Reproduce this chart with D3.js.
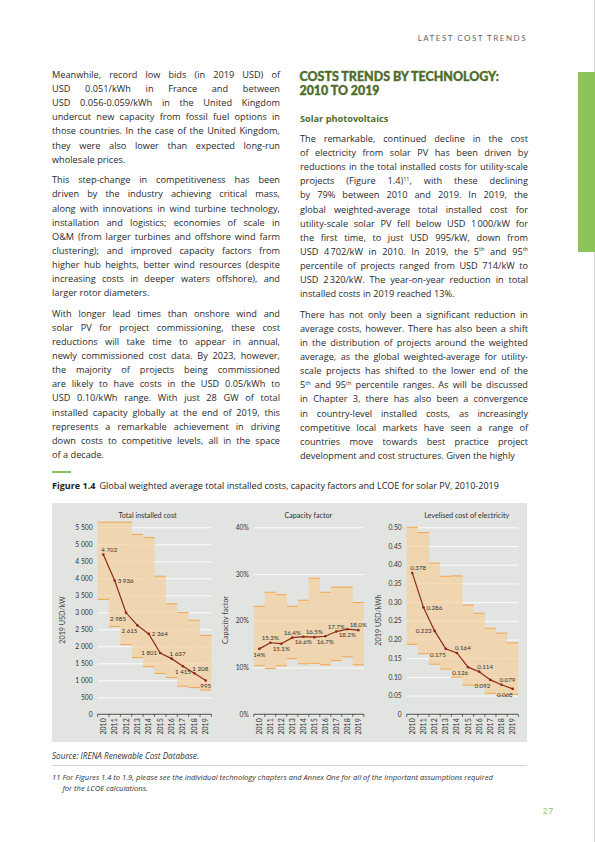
<!DOCTYPE html>
<html>
<head>
<meta charset="utf-8">
<script src="https://cdn.jsdelivr.net/npm/d3@7"></script>
<style>
  body { margin: 0; background: #fff; }
  svg text { font-family: Lato, "Open Sans", sans-serif; }
  svg .body text, svg text.os { font-family: "Open Sans", Lato, sans-serif; }
</style>
</head>
<body>
<svg id="page" width="595" height="842"></svg>
<script>
// ---- chart data ----
const years = [2010, 2011, 2012, 2013, 2014, 2015, 2016, 2017, 2018, 2019];

const costAvg = [4702, 3936, 2985, 2615, 2364, 1801, 1637, 1415, 1208, 995];
const costP95 = [5650, 5650, 5650, 5290, 5200, 4060, 3250, 2990, 2765, 2320];
const costP5  = [3380, 2580, 2050, 1670, 1400, 1200, 1080, 825, 785, 714];
const costTicks = [0, 500, 1000, 1500, 2000, 2500, 3000, 3500, 4000, 4500, 5000, 5500];

const cfAvg = [14, 15.3, 15.1, 16.4, 16.6, 16.5, 16.7, 17.7, 18.2, 18.0];
const cfP95 = [23.1, 26.1, 25.6, 23.1, 24.4, 29.1, 26.1, 27.2, 27.2, 23.9];
const cfP5  = [10.4, 9.8, 10.4, 11.9, 10.8, 10.9, 10.6, 11.5, 12.3, 10.6];
const cfLabels = ['14%', '15.3%', '15.1%', '16.4%', '16.6%', '16.5%', '16.7%', '17.7%', '18.2%', '18.0%'];
const cfTicks = [0, 10, 20, 30, 40];

const lcoeAvg = [0.378, 0.286, 0.223, 0.175, 0.164, 0.126, 0.114, 0.092, 0.079, 0.068];
const lcoeP95 = [0.500, 0.486, 0.404, 0.369, 0.370, 0.292, 0.270, 0.230, 0.217, 0.191];
const lcoeP5  = [0.187, 0.162, 0.134, 0.121, 0.099, 0.078, 0.078, 0.056, 0.050, 0.053];
const lcoeTicks = [0, 0.05, 0.10, 0.15, 0.20, 0.25, 0.30, 0.35, 0.40, 0.45, 0.50];

// where each value label sits relative to its point
const costLabelPos = ['ar', 'r', 'bl', 'bl', 'r', 'l', 'ar', 'b', 'ar', 'b'];
const cfLabelPos   = ['b', 'a', 'b', 'a', 'b', 'a', 'b', 'a', 'b', 'a'];
const lcoeLabelPos = ['ar', 'r', 'l', 'bl', 'ar', 'bl', 'ar', 'bl', 'ar', 'bl'];

// ---- page text ----
const leftParas = [
  ["Meanwhile, record low bids (in 2019 USD) of",
   "USD 0.051/kWh in France and between",
   "USD 0.056-0.059/kWh in the United Kingdom",
   "undercut new capacity from fossil fuel options in",
   "those countries. In the case of the United Kingdom,",
   "they were also lower than expected long-run",
   "wholesale prices."],
  ["This step-change in competitiveness has been",
   "driven by the industry achieving critical mass,",
   "along with innovations in wind turbine technology,",
   "installation and logistics; economies of scale in",
   "O&M (from larger turbines and offshore wind farm",
   "clustering); and improved capacity factors from",
   "higher hub heights, better wind resources (despite",
   "increasing costs in deeper waters offshore), and",
   "larger rotor diameters."],
  ["With longer lead times than onshore wind and",
   "solar PV for project commissioning, these cost",
   "reductions will take time to appear in annual,",
   "newly commissioned cost data. By 2023, however,",
   "the majority of projects being commissioned",
   "are likely to have costs in the USD 0.05/kWh to",
   "USD 0.10/kWh range. With just 28 GW of total",
   "installed capacity globally at the end of 2019, this",
   "represents a remarkable achievement in driving",
   "down costs to competitive levels, all in the space",
   "of a decade."]
];

const rightParas = [
  ["The remarkable, continued decline in the cost",
   "of electricity from solar PV has been driven by",
   "reductions in the total installed costs for utility-scale",
   "projects (Figure 1.4)^11, with these declining",
   "by 79% between 2010 and 2019. In 2019, the",
   "global weighted-average total installed cost for",
   "utility-scale solar PV fell below USD 1\u202F000/kW for",
   "the first time, to just USD 995/kW, down from",
   "USD 4\u202F702/kW in 2010. In 2019, the 5^th and 95^th",
   "percentile of projects ranged from USD 714/kW to",
   "USD 2\u202F320/kW. The year-on-year reduction in total",
   "installed costs in 2019 reached 13%."],
  ["There has not only been a significant reduction in",
   "average costs, however. There has also been a shift",
   "in the distribution of projects around the weighted",
   "average, as the global weighted-average for utility-",
   "scale projects has shifted to the lower end of the",
   "5^th and 95^th percentile ranges. As will be discussed",
   "in Chapter 3, there has also been a convergence",
   "in country-level installed costs, as increasingly",
   "competitive local markets have seen a range of",
   "countries move towards best practice project",
   "development and cost structures. Given the highly"]
];

const svg = d3.select('#page');
const green = '#8dc45a';
const darkGreen = '#4f6d2b';
const bodySize = 9.2;
const lineH = 14.1;
const paraGap = 6.6;

// ---- header, tab, page edge ----
svg.append('line').attr('x1', 594.5).attr('x2', 594.5).attr('y1', 0).attr('y2', 842)
  .attr('stroke', '#d0d0d0').attr('stroke-width', 1);
svg.append('rect').attr('x', 578).attr('y', 72).attr('width', 17).attr('height', 180).attr('fill', green);
svg.append('text').attr('x', 527).attr('y', 41).attr('text-anchor', 'end')
  .attr('font-size', 8).attr('letter-spacing', 1.5).attr('fill', '#666')
  .text('LATEST COST TRENDS');

// ---- justified body text ----
function addWord(t, wd, x, y, size) {
  wd.split(/(\^[0-9a-z]+)/).filter(s => s).forEach((seg, j) => {
    const ts = t.append('tspan');
    if (j === 0) ts.attr('x', x);
    if (seg[0] === '^') {
      ts.attr('y', y - size * 0.38).attr('font-size', size * 0.6).text(seg.slice(1));
    } else {
      ts.attr('y', y).text(seg);
    }
  });
}

function measure(g, wd, size) {
  const tmp = g.append('text');
  addWord(tmp, wd, 0, 0, size);
  const l = tmp.node().getComputedTextLength();
  tmp.remove();
  return l;
}

function textLine(g, str, x, y, w, justify, size) {
  const words = str.split(' ');
  const widths = words.map(wd => measure(g, wd, size));
  const sp = measure(g, 'a\u00a0a', size) - measure(g, 'aa', size);
  const total = d3.sum(widths);
  const n = words.length;
  const natural = total + sp * (n - 1);
  let gap = sp, s = 1;
  if (natural > w) s = w / natural;
  else if (justify && n > 1) gap = (w - total) / (n - 1);
  const t = g.append('text');
  if (s !== 1) t.attr('transform', `translate(${x},0) scale(${s},1) translate(${-x},0)`);
  let cx = x;
  words.forEach((wd, i) => {
    addWord(t, wd, cx, y, size);
    cx += widths[i] + gap;
  });
}

function column(paras, x, y0, w) {
  const g = svg.append('g').attr('class', 'body').attr('font-size', bodySize).attr('fill', '#2a2a2a');
  let y = y0;
  paras.forEach(lines => {
    lines.forEach((ln, i) => {
      textLine(g, ln, x, y, w, i < lines.length - 1, bodySize);
      y += lineH;
    });
    y += paraGap;
  });
}

// size a text element (and its companions) so the first spans a target width
function fitSize(sel, base, target, others) {
  sel.attr('font-size', base);
  const s = base * target / sel.node().getComputedTextLength();
  sel.attr('font-size', s);
  (others || []).forEach(o => o.attr('font-size', s));
}

column(leftParas, 52, 78, 228);

svg.append('text').attr('x', 299.5).attr('y', 80.5).attr('font-size', 12.5).attr('font-weight', 900)
  .attr('fill', darkGreen).attr('stroke', darkGreen).attr('stroke-width', 0.35)
  .attr('textLength', 199.5).attr('lengthAdjust', 'spacingAndGlyphs')
  .text('COSTS TRENDS BY TECHNOLOGY:');
svg.append('text').attr('x', 299.5).attr('y', 95).attr('font-size', 12.5).attr('font-weight', 900)
  .attr('fill', darkGreen).attr('stroke', darkGreen).attr('stroke-width', 0.35)
  .attr('textLength', 80).attr('lengthAdjust', 'spacingAndGlyphs')
  .text('2010 TO 2019');
svg.append('text').attr('class', 'os').attr('x', 300).attr('y', 122).attr('font-size', 9.2).attr('font-weight', 700)
  .attr('fill', darkGreen).text('Solar photovoltaics');

column(rightParas, 300, 142, 228);

// ---- figure caption ----
svg.append('line').attr('x1', 52).attr('x2', 71).attr('y1', 472).attr('y2', 472)
  .attr('stroke', green).attr('stroke-width', 2);
const cap = svg.append('text').attr('class', 'os').attr('x', 52).attr('y', 489).attr('fill', '#222');
cap.append('tspan').attr('font-weight', 700).text('Figure 1.4');
cap.append('tspan').attr('dx', 4).text('Global weighted average total installed costs, capacity factors and LCOE for solar PV, 2010-2019');
fitSize(cap, 8.4, 442);

// chart background
svg.append('rect').attr('x', 52).attr('y', 503).attr('width', 475).attr('height', 239).attr('fill', '#e1e4e0');

// ---- panels ----
const plotTop = 527.3, plotBottom = 714.3;

function drawPanel(cfg) {
  const g = svg.append('g');
  const xb = d3.scaleBand().domain(years).range([cfg.x0, cfg.x1]).padding(0);
  const y = d3.scaleLinear().domain([0, cfg.yMax]).range([plotBottom, plotTop]);
  const bw = xb.bandwidth();
  const cx = yr => xb(yr) + bw / 2;

  // gridlines + y labels
  const ax = g.append('g').attr('transform', `translate(${cfg.x0},0)`)
    .call(d3.axisLeft(y).tickValues(cfg.ticks).tickSize(-(cfg.x1 - cfg.x0)).tickPadding(5).tickFormat(cfg.fmt));
  ax.select('.domain').remove();
  ax.selectAll('line').attr('stroke', '#fff').attr('stroke-width', 0.9);
  ax.selectAll('text').attr('font-size', 6.7).attr('fill', '#333').style('font-family', 'Lato, sans-serif');

  // percentile bands
  const rows = years.map((yr, i) => ({ yr, lo: cfg.p5[i], hi: cfg.p95[i], avg: cfg.avg[i], lab: cfg.labels[i], pos: cfg.pos[i] }));
  g.selectAll('rect.band').data(rows).join('rect')
    .attr('x', d => xb(d.yr)).attr('width', bw)
    .attr('y', d => y(d.hi)).attr('height', d => y(d.lo) - y(d.hi))
    .attr('fill', '#f7cc93').attr('fill-opacity', 0.62);
  ['hi', 'lo'].forEach(k => {
    g.selectAll('line.e' + k).data(rows).join('line')
      .attr('x1', d => xb(d.yr)).attr('x2', d => xb(d.yr) + bw)
      .attr('y1', d => y(d[k])).attr('y2', d => y(d[k]))
      .attr('stroke', '#f2aa58').attr('stroke-width', 1.1);
  });

  // x axis
  g.append('line').attr('x1', cfg.x0).attr('x2', cfg.x1).attr('y1', plotBottom).attr('y2', plotBottom)
    .attr('stroke', '#222').attr('stroke-width', 0.8);
  g.selectAll('line.tick').data(years.concat([null])).join('line')
    .attr('x1', d => d === null ? cfg.x1 : xb(d)).attr('x2', d => d === null ? cfg.x1 : xb(d))
    .attr('y1', plotBottom).attr('y2', plotBottom + 2.5)
    .attr('stroke', '#222').attr('stroke-width', 0.7);
  g.selectAll('text.year').data(years).join('text')
    .attr('transform', d => `translate(${cx(d)},${plotBottom + 4}) rotate(-90)`)
    .attr('text-anchor', 'end').attr('dy', '0.36em')
    .attr('font-size', 7).attr('fill', '#333').text(d => d);

  // weighted-average line
  const line = d3.line().x(d => cx(d.yr)).y(d => y(d.avg));
  g.append('path').datum(rows).attr('d', line).attr('fill', 'none')
    .attr('stroke', '#8b2a17').attr('stroke-width', 1.2);
  g.selectAll('circle').data(rows).join('circle')
    .attr('cx', d => cx(d.yr)).attr('cy', d => y(d.avg)).attr('r', 1.3).attr('fill', '#8b2a17');

  // value labels
  const place = {
    ar: { dx: -2, dy: -2.6, a: 'start' },
    r:  { dx: 3, dy: 2.2, a: 'start' },
    l:  { dx: -3, dy: 2.2, a: 'end' },
    bl: { dx: 0, dy: 8.1, a: 'end' },
    b:  { dx: 0, dy: 7.7, a: 'middle' },
    a:  { dx: 0, dy: -3, a: 'middle' }
  };
  g.selectAll('text.val').data(rows).join('text')
    .attr('x', d => cx(d.yr) + place[d.pos].dx)
    .attr('y', d => y(d.avg) + place[d.pos].dy)
    .attr('text-anchor', d => place[d.pos].a)
    .attr('font-size', 6.2).attr('fill', '#333').text(d => d.lab);

  // titles
  g.append('text').attr('x', cfg.titleX).attr('y', 517.5).attr('text-anchor', 'middle')
    .attr('font-size', 7.2).attr('fill', '#333').text(cfg.title);
  g.append('text').attr('transform', `translate(${cfg.ytX},620) rotate(-90)`)
    .attr('text-anchor', 'middle').attr('dy', '0.35em')
    .attr('font-size', 7.2).attr('fill', '#444').text(cfg.ytitle);
}

const spaced = v => d3.format(',')(v).replace(',', ' ');

drawPanel({
  x0: 97.6, x1: 211.4, yMax: 5500, ticks: costTicks, fmt: spaced,
  avg: costAvg, p5: costP5, p95: costP95, labels: costAvg.map(spaced), pos: costLabelPos,
  title: 'Total installed cost', titleX: 147.5, ytitle: '2019 USD/kW', ytX: 62
});
drawPanel({
  x0: 253.8, x1: 363.8, yMax: 40, ticks: cfTicks, fmt: d => d + '%',
  avg: cfAvg, p5: cfP5, p95: cfP95, labels: cfLabels, pos: cfLabelPos,
  title: 'Capacity factor', titleX: 308.3, ytitle: 'Capacity factor', ytX: 225
});
drawPanel({
  x0: 406.7, x1: 518.3, yMax: 0.5, ticks: lcoeTicks, fmt: d => d === 0 ? '0' : d3.format('.2f')(d),
  avg: lcoeAvg, p5: lcoeP5, p95: lcoeP95, labels: lcoeAvg.map(d => d3.format('.3f')(d)), pos: lcoeLabelPos,
  title: 'Levelised cost of electricity', titleX: 466.7, ytitle: '2019 USD/kWh', ytX: 378
});

// ---- source, footnote, page number ----
const src = svg.append('text').attr('class', 'os').attr('x', 52).attr('y', 758.5).attr('font-style', 'italic')
  .attr('fill', '#333').text('Source: IRENA Renewable Cost Database.');
fitSize(src, 7.2, 147);
svg.append('line').attr('x1', 52).attr('x2', 527).attr('y1', 765.5).attr('y2', 765.5)
  .attr('stroke', '#c8c8c8').attr('stroke-width', 0.8);
const fn = svg.append('g').attr('font-style', 'italic').attr('fill', '#333');
const fnNum = fn.append('text').attr('class', 'os').attr('x', 52).attr('y', 780).text('11');
const fn1 = fn.append('text').attr('class', 'os').attr('x', 62.5).attr('y', 780)
  .text('For Figures 1.4 to 1.9, please see the individual technology chapters and Annex One for all of the important assumptions required');
const fn2 = fn.append('text').attr('class', 'os').attr('x', 62.5).attr('y', 790.5).text('for the LCOE calculations.');
fitSize(fn1, 7, 431, [fnNum, fn2]);
svg.append('text').attr('x', 548.5).attr('y', 814).attr('text-anchor', 'middle')
  .attr('font-size', 8).attr('letter-spacing', 1).attr('fill', green).text('27');
</script>
</body>
</html>
